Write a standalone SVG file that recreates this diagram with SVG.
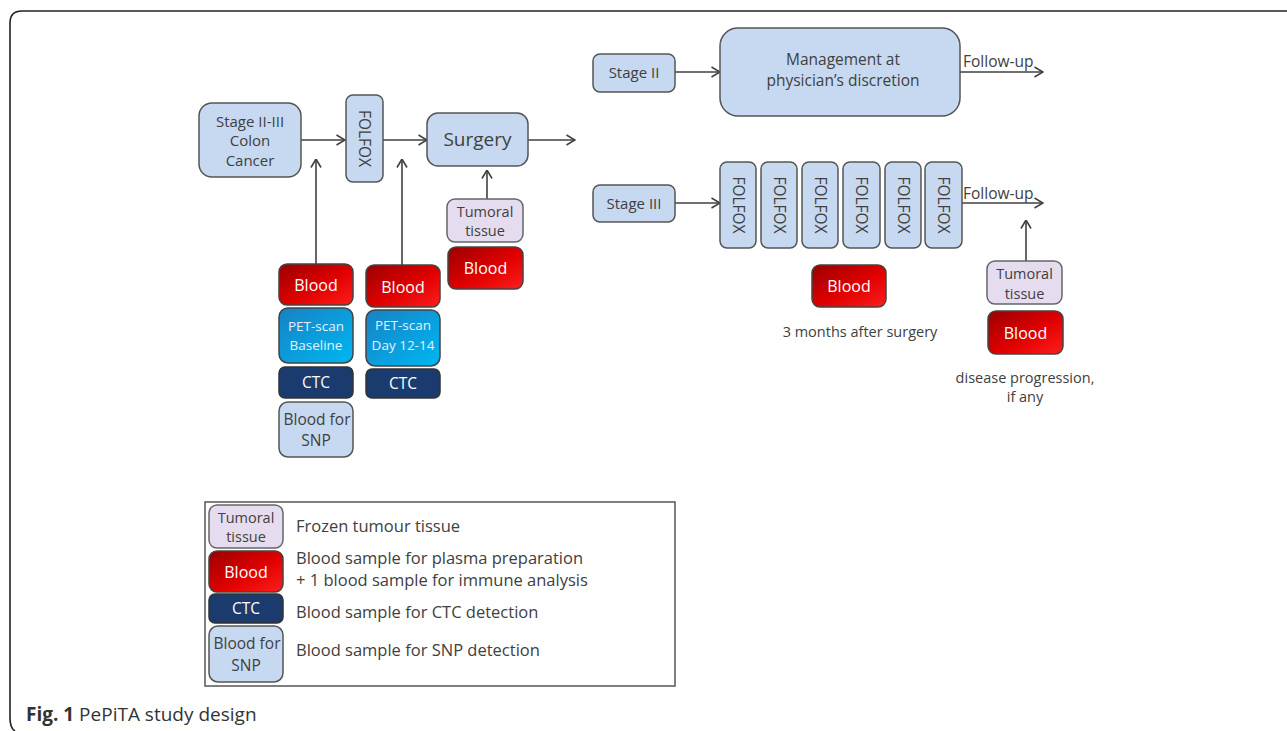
<svg xmlns="http://www.w3.org/2000/svg" width="1287" height="731" viewBox="0 0 1287 731">
<defs>
<linearGradient id="gBlood" x1="0" y1="0" x2="1" y2="1">
<stop offset="0" stop-color="#9a0000"/>
<stop offset="0.55" stop-color="#e00000"/>
<stop offset="1" stop-color="#ff1e1e"/>
</linearGradient>
<linearGradient id="gPet" x1="0" y1="0" x2="1" y2="1">
<stop offset="0" stop-color="#1782c4"/>
<stop offset="1" stop-color="#00b6f2"/>
</linearGradient>
<marker id="ah" viewBox="0 0 10 12" refX="9.5" refY="6" markerWidth="10" markerHeight="12" orient="auto" markerUnits="userSpaceOnUse">
<path d="M1,1 L9.5,6 L1,11" fill="none" stroke="#404040" stroke-width="1.6"/>
</marker>
</defs>
<style>
text{font-family:"Open Sans","Noto Sans","Liberation Sans",sans-serif;fill:#404040}
.lb{fill:#c6d9f0;stroke:#555;stroke-width:1.5}
.tt{fill:#e5ddef;stroke:#666;stroke-width:1.5}
.bl{fill:url(#gBlood);stroke:#444;stroke-width:1.5}
.pet{fill:url(#gPet);stroke:#444;stroke-width:1.5}
.ctc{fill:#1b3a6d;stroke:#333;stroke-width:1.5}
.w{fill:#ffffff}
.pw{fill:#e2f2fc}
.c{text-anchor:middle}
.conn line{stroke:#404040;stroke-width:1.6;fill:none;marker-end:url(#ah)}
</style>
<rect width="1287" height="731" fill="#ffffff"/>
<path id="frame" d="M1287,11 H22 Q10,11 10,23 V718 Q10,728 15,731" fill="none" stroke="#222" stroke-width="1.6"/>

<g class="conn" id="connectors">
<line x1="301" y1="140" x2="345" y2="140"/>
<line x1="383" y1="140" x2="427" y2="140"/>
<line x1="528" y1="140" x2="575" y2="140"/>
<line x1="316" y1="264" x2="316" y2="159"/>
<line x1="402" y1="265" x2="402" y2="159"/>
<line x1="487" y1="199" x2="487" y2="170"/>
<line x1="675" y1="72" x2="720" y2="72"/>
<line x1="960" y1="72" x2="1043" y2="72"/>
<line x1="675" y1="203" x2="720" y2="203"/>
<line x1="962" y1="203" x2="1043" y2="203"/>
<line x1="1026" y1="261" x2="1026" y2="220"/>
</g>

<g id="stage23">
<rect class="lb" x="199" y="103" width="102" height="74" rx="13"/>
<text class="c" x="250" y="127" font-size="15">Stage II-III</text>
<text class="c" x="250" y="146" font-size="15">Colon</text>
<text class="c" x="250" y="166" font-size="15">Cancer</text>
</g>
<g id="folfox0">
<rect class="lb" x="346" y="95" width="37" height="87" rx="7"/>
<text class="c" transform="translate(364.5,138.5) rotate(90)" y="5.5" font-size="15.5">FOLFOX</text>
</g>
<g id="surgery">
<rect class="lb" x="427" y="113" width="101" height="53" rx="11"/>
<text class="c" x="477.5" y="146" font-size="19">Surgery</text>
</g>
<g id="tumoral1">
<rect class="tt" x="447" y="199" width="76" height="43" rx="8"/>
<text class="c" x="485" y="217" font-size="14.5">Tumoral</text>
<text class="c" x="485" y="236" font-size="14.5">tissue</text>
</g>
<g id="blood3">
<rect class="bl" x="448" y="247" width="75" height="42" rx="8"/>
<text class="c w" x="485.5" y="274" font-size="16">Blood</text>
</g>

<g id="blood1">
<rect class="bl" x="279" y="264" width="74" height="41" rx="8"/>
<text class="c w" x="316" y="290.5" font-size="16">Blood</text>
</g>
<g id="pet1">
<rect class="pet" x="279" y="308" width="74" height="55" rx="9"/>
<text class="c pw" x="316" y="331" font-size="13.5">PET-scan</text>
<text class="c pw" x="316" y="350" font-size="13.5">Baseline</text>
</g>
<g id="ctc1">
<rect class="ctc" x="279" y="367" width="74" height="31" rx="6"/>
<text class="c w" x="316" y="388" font-size="15.5">CTC</text>
</g>
<g id="snp1">
<rect class="lb" x="279" y="402" width="74" height="55" rx="9"/>
<text class="c" x="317" y="425" font-size="15.5">Blood for</text>
<text class="c" x="316" y="446" font-size="15.5">SNP</text>
</g>

<g id="blood2">
<rect class="bl" x="366" y="265" width="74" height="42" rx="8"/>
<text class="c w" x="403" y="293" font-size="16">Blood</text>
</g>
<g id="pet2">
<rect class="pet" x="366" y="310" width="74" height="56" rx="9"/>
<text class="c pw" x="403" y="330" font-size="13.5">PET-scan</text>
<text class="c pw" x="403" y="350" font-size="13.5">Day 12-14</text>
</g>
<g id="ctc2">
<rect class="ctc" x="366" y="369" width="74" height="29" rx="6"/>
<text class="c w" x="403" y="389" font-size="15.5">CTC</text>
</g>

<g id="stage2">
<rect class="lb" x="593" y="54" width="82" height="38" rx="7"/>
<text class="c" x="634" y="78" font-size="15">Stage II</text>
</g>
<g id="management">
<rect class="lb" x="720" y="28" width="240" height="88" rx="18"/>
<text class="c" x="843" y="65" font-size="15.5">Management at</text>
<text class="c" x="843" y="86" font-size="15.5">physician’s discretion</text>
</g>
<text x="963" y="67" font-size="15.5">Follow-up</text>

<g id="stage3">
<rect class="lb" x="593" y="185" width="82" height="37" rx="7"/>
<text class="c" x="634" y="209" font-size="15">Stage III</text>
</g>
<g id="folfox1"><rect class="lb" x="720" y="162" width="36" height="86" rx="7"/><text class="c" transform="translate(738,205) rotate(90)" y="5.5" font-size="15.5">FOLFOX</text></g>
<g id="folfox2"><rect class="lb" x="761" y="162" width="36" height="86" rx="7"/><text class="c" transform="translate(779,205) rotate(90)" y="5.5" font-size="15.5">FOLFOX</text></g>
<g id="folfox3"><rect class="lb" x="802" y="162" width="36" height="86" rx="7"/><text class="c" transform="translate(820,205) rotate(90)" y="5.5" font-size="15.5">FOLFOX</text></g>
<g id="folfox4"><rect class="lb" x="843" y="162" width="37" height="86" rx="7"/><text class="c" transform="translate(861.5,205) rotate(90)" y="5.5" font-size="15.5">FOLFOX</text></g>
<g id="folfox5"><rect class="lb" x="885" y="162" width="36" height="86" rx="7"/><text class="c" transform="translate(903,205) rotate(90)" y="5.5" font-size="15.5">FOLFOX</text></g>
<g id="folfox6"><rect class="lb" x="925" y="162" width="37" height="86" rx="7"/><text class="c" transform="translate(943.5,205) rotate(90)" y="5.5" font-size="15.5">FOLFOX</text></g>
<text x="963" y="199" font-size="15.5">Follow-up</text>

<g id="blood4">
<rect class="bl" x="812" y="265" width="74" height="42" rx="8"/>
<text class="c w" x="849" y="292" font-size="16">Blood</text>
</g>
<text class="c" x="860" y="337" font-size="14.5">3 months after surgery</text>

<g id="tumoral2">
<rect class="tt" x="987" y="261" width="75" height="43" rx="8"/>
<text class="c" x="1024.5" y="279" font-size="14.5">Tumoral</text>
<text class="c" x="1024.5" y="299" font-size="14.5">tissue</text>
</g>
<g id="blood5">
<rect class="bl" x="988" y="311" width="75" height="43" rx="8"/>
<text class="c w" x="1025.5" y="339" font-size="16">Blood</text>
</g>
<text class="c" x="1025" y="383" font-size="14.5">disease progression,</text>
<text class="c" x="1025" y="402" font-size="14.5">if any</text>

<g id="legend">
<rect x="205" y="502" width="470" height="184" fill="#ffffff" stroke="#555" stroke-width="1.5"/>
<rect class="tt" x="209" y="505" width="74" height="43" rx="8"/>
<text class="c" x="246" y="523" font-size="14.5">Tumoral</text>
<text class="c" x="246" y="542" font-size="14.5">tissue</text>
<rect class="bl" x="209" y="551" width="74" height="41" rx="8"/>
<text class="c w" x="246" y="577.5" font-size="16">Blood</text>
<rect class="ctc" x="209" y="594" width="74" height="29" rx="6"/>
<text class="c w" x="246" y="614" font-size="15.5">CTC</text>
<rect class="lb" x="209" y="626" width="74" height="56" rx="9"/>
<text class="c" x="247" y="649" font-size="15.5">Blood for</text>
<text class="c" x="246" y="671" font-size="15.5">SNP</text>
<text x="296" y="532" font-size="16.5">Frozen tumour tissue</text>
<text x="296" y="564" font-size="16.5">Blood sample for plasma preparation</text>
<text x="296" y="586" font-size="16.5">+ 1 blood sample for immune analysis</text>
<text x="296" y="618" font-size="16.5">Blood sample for CTC detection</text>
<text x="296" y="656" font-size="16.5">Blood sample for SNP detection</text>
</g>

<text x="26" y="721" font-size="19" style="fill:#333"><tspan font-weight="bold">Fig. 1</tspan> PePiTA study design</text>
</svg>
